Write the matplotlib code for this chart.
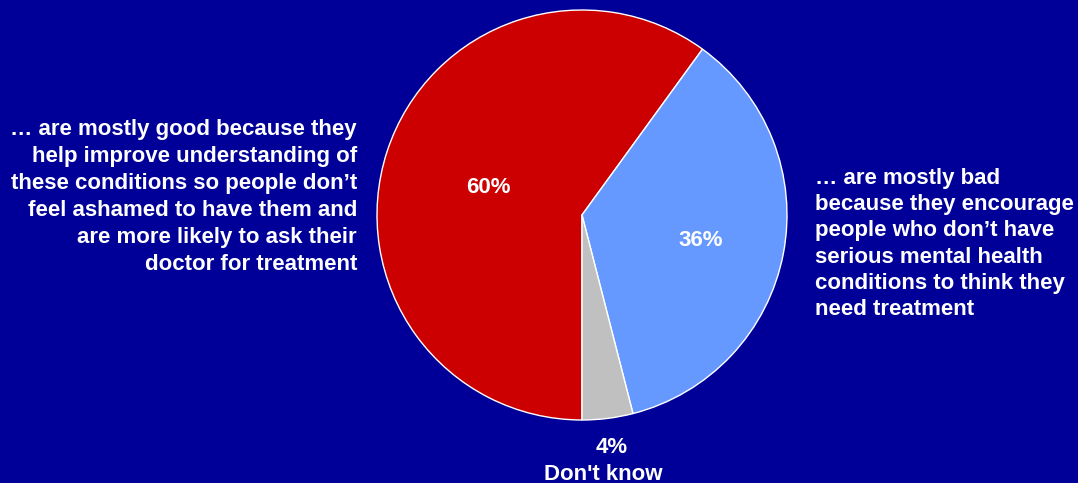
import matplotlib
matplotlib.use("Agg")
import matplotlib.pyplot as plt
import numpy as np

# Survey shares
categories = ["Mostly good", "Mostly bad", "Don't know"]
values = [60, 36, 4]
pct_labels = ["60%", "36%", "4%"]
colors = ["#CC0000", "#6699FF", "#C0C0C0"]

left_text = ("… are mostly good because they\n"
             "help improve understanding of\n"
             "these conditions so people don’t\n"
             "feel ashamed to have them and\n"
             "are more likely to ask their\n"
             "doctor for treatment")
right_text = ("… are mostly bad\n"
              "because they encourage\n"
              "people who don’t have\n"
              "serious mental health\n"
              "conditions to think they\n"
              "need treatment")

W, H = 1078, 483
BG = "#000099"
FS = 16
plt.rcParams['font.family'] = ['Liberation Sans', 'DejaVu Sans']

fig = plt.figure(figsize=(W / 100, H / 100), dpi=100, facecolor=BG)
ax = fig.add_axes([0, 0, 1, 1])
ax.set_facecolor(BG)

cx, cy, r = 582, H - 215, 205
wedges, _ = ax.pie(values, colors=colors, startangle=-90, counterclock=False,
                   center=(cx, cy), radius=r, frame=True,
                   wedgeprops=dict(edgecolor="white", linewidth=1.0))
ax.set_xlim(0, W)
ax.set_ylim(0, H)
ax.set_aspect("equal")
ax.axis("off")

# Percentage labels placed along each wedge's mid-angle
dists = [0.48, 0.59, 1.17]
for w, lab, d in zip(wedges, pct_labels, dists):
    ang = np.deg2rad((w.theta1 + w.theta2) / 2)
    x = cx + d * r * np.cos(ang)
    y = cy + d * r * np.sin(ang)
    if lab == "4%":
        ax.text(x, y, lab, color="white", fontsize=FS, fontweight="bold",
                ha="center", va="baseline")
        ax.text(x - 9, y - 27, categories[2], color="white", fontsize=FS,
                fontweight="bold", ha="center", va="baseline")
    else:
        ax.text(x, y, lab, color="white", fontsize=FS, fontweight="bold",
                ha="center", va="center_baseline")

ax.text(357, H - 197, left_text, color="white", fontsize=FS, fontweight="bold",
        ha="right", va="center", linespacing=1.37)
ax.text(815, H - 244, right_text, color="white", fontsize=FS, fontweight="bold",
        ha="left", va="center", linespacing=1.32)

fig.savefig("out.png", dpi=100, facecolor=BG)
